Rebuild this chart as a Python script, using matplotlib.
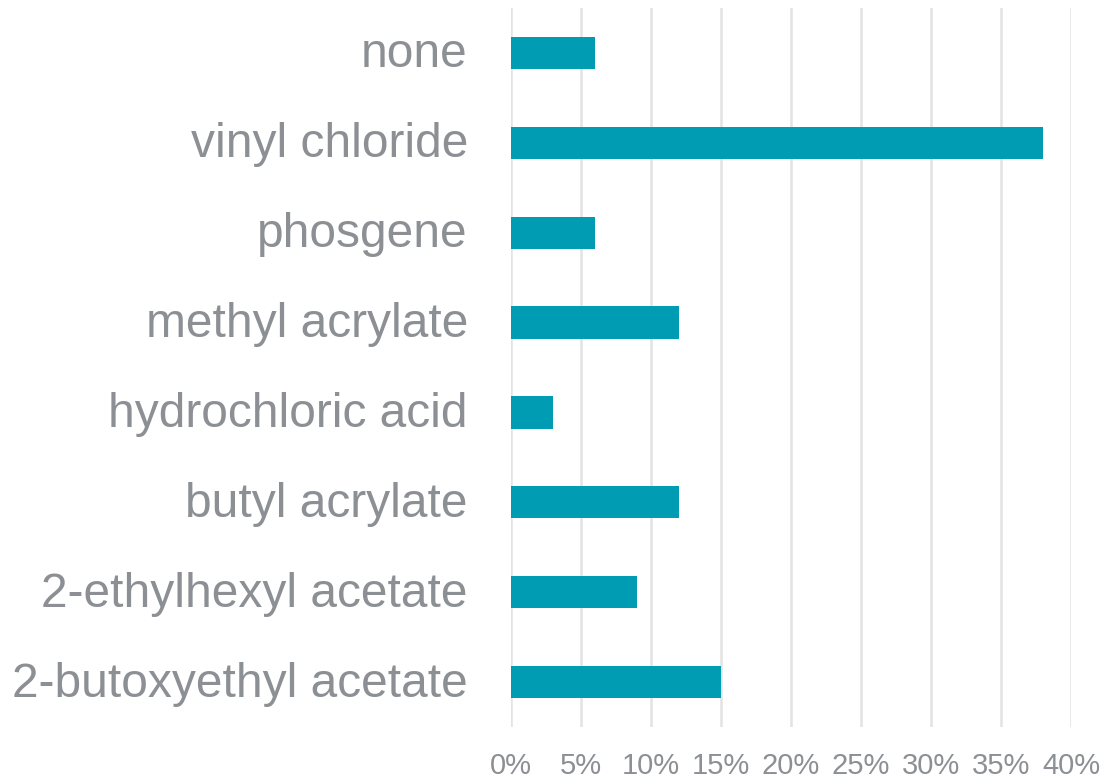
import matplotlib.pyplot as plt
import matplotlib.transforms as mtransforms
from matplotlib.ticker import FuncFormatter

plt.rcParams['font.family'] = ['Liberation Sans', 'DejaVu Sans']

chemicals = ['none', 'vinyl chloride', 'phosgene', 'methyl acrylate',
             'hydrochloric acid', 'butyl acrylate', '2-ethylhexyl acetate',
             '2-butoxyethyl acetate']
percent = [6, 38, 6, 12, 3, 12, 9, 15]

bar_color = '#009cb4'
text_color = '#8c9094'

fig = plt.figure(figsize=(11.04, 7.81), dpi=100)
ax = fig.add_axes([511/1104, 1 - 727/781, 560/1104, 719/781])

y = list(range(len(chemicals)))
ax.barh(y, percent, height=0.36, color=bar_color, zorder=3)

ax.set_ylim(len(chemicals) - 0.5, -0.5)
ax.set_xlim(0, 40)
ax.set_xticks(range(0, 41, 5))
ax.xaxis.set_major_formatter(FuncFormatter(lambda v, p: f'{v:.0f}%'))
ax.set_yticks(y)
ax.set_yticklabels(chemicals)

ax.grid(axis='x', color='#e3e3e3', linewidth=1.8, zorder=0)
for s in ax.spines.values():
    s.set_visible(False)
ax.tick_params(axis='both', length=0)
ax.tick_params(axis='y', labelsize=34.5, labelcolor=text_color, pad=31)
ax.tick_params(axis='x', labelsize=21, labelcolor=text_color, pad=18)

# nudge category labels up a little
shift = mtransforms.ScaledTranslation(0, 3/100, fig.dpi_scale_trans)
for lbl in ax.get_yticklabels():
    lbl.set_transform(lbl.get_transform() + shift)

fig.savefig('out.png', dpi=100)
